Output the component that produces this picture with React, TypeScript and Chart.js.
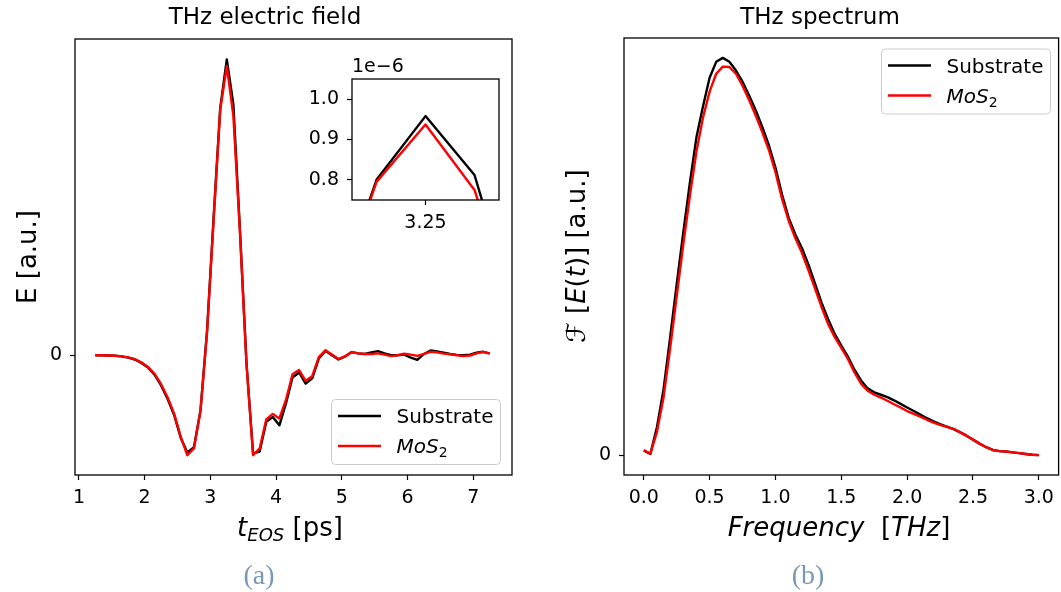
import React, { useEffect, useRef } from "react";
import Chart from "chart.js/auto";

// ---------- data ----------
const T_PS = [
  1.25, 1.35, 1.45, 1.55, 1.65, 1.75, 1.85, 1.95, 2.05, 2.15, 2.25, 2.35, 2.45, 2.55, 2.65, 2.75,
  2.85, 2.95, 3.05, 3.15, 3.25, 3.35, 3.45, 3.55, 3.65, 3.75, 3.85, 3.95, 4.05, 4.15, 4.25, 4.35,
  4.45, 4.55, 4.65, 4.75, 4.85, 4.95, 5.05, 5.15, 5.25, 5.35, 5.45, 5.55, 5.65, 5.75, 5.85, 5.95,
  6.05, 6.15, 6.25, 6.35, 6.45, 6.55, 6.65, 6.75, 6.85, 6.95, 7.05, 7.15, 7.25,
];
// E field in units of 1e-6
const E_SUBSTRATE = [
  0, 0, -0.001, -0.002, -0.004, -0.008, -0.014, -0.025, -0.04, -0.063, -0.098, -0.142, -0.195, -0.268, -0.315, -0.298,
  -0.178, 0.081, 0.448, 0.8, 0.958, 0.812, 0.405, -0.027, -0.318, -0.312, -0.216, -0.2, -0.227, -0.156, -0.072, -0.056,
  -0.092, -0.075, -0.011, 0.014, 0.0, -0.014, -0.004, 0.01, 0.006, 0.004, 0.009, 0.013, 0.006, 0.0, 0.0, 0.002,
  -0.008, -0.015, 0.004, 0.015, 0.012, 0.008, 0.004, 0.001, 0.0, 0.002, 0.008, 0.011, 0.006,
];
const E_MOS2 = [
  0, 0, -0.001, -0.002, -0.004, -0.007, -0.013, -0.023, -0.038, -0.06, -0.094, -0.137, -0.19, -0.265, -0.324, -0.302,
  -0.18, 0.075, 0.44, 0.795, 0.937, 0.775, 0.4, -0.03, -0.324, -0.302, -0.208, -0.19, -0.205, -0.145, -0.062, -0.048,
  -0.083, -0.068, -0.006, 0.016, 0.002, -0.012, -0.004, 0.01, 0.006, 0.004, 0.004, 0.006, 0.002, -0.003, 0.0, 0.005,
  0.002, -0.002, 0.004, 0.011, 0.009, 0.005, 0.003, 0.0, -0.003, -0.001, 0.006, 0.011, 0.005,
];
const FREQ_THZ = [
  0, 0.05, 0.1, 0.15, 0.2, 0.25, 0.3, 0.35, 0.4, 0.45, 0.5, 0.55, 0.6, 0.65, 0.7, 0.75, 0.8, 0.85, 0.9, 0.95,
  1.0, 1.05, 1.1, 1.15, 1.2, 1.25, 1.3, 1.35, 1.4, 1.45, 1.5, 1.55, 1.6, 1.65, 1.7, 1.75, 1.8, 1.85, 1.9, 1.95,
  2.0, 2.05, 2.1, 2.15, 2.2, 2.25, 2.3, 2.35, 2.4, 2.45, 2.5, 2.55, 2.6, 2.65, 2.7, 2.75, 2.8, 2.85, 2.9, 2.95, 3.0,
];
const SPEC_SUBSTRATE = [
  0.012, 0.003, 0.07, 0.165, 0.295, 0.43, 0.56, 0.685, 0.8, 0.878, 0.95, 0.99, 1.0, 0.99, 0.968, 0.94, 0.905, 0.868, 0.826, 0.78,
  0.724, 0.656, 0.598, 0.556, 0.522, 0.48, 0.432, 0.384, 0.342, 0.305, 0.276, 0.248, 0.215, 0.188, 0.168, 0.158, 0.152, 0.146, 0.138, 0.129,
  0.12, 0.111, 0.102, 0.093, 0.085, 0.078, 0.072, 0.066, 0.058, 0.049, 0.039, 0.029, 0.02, 0.013, 0.01, 0.009, 0.007, 0.005, 0.003, 0.001, 0.0,
];
const SPEC_MOS2 = [
  0.012, 0.004, 0.058, 0.145, 0.268, 0.4, 0.53, 0.652, 0.764, 0.85, 0.915, 0.96, 0.978, 0.977, 0.96, 0.93, 0.894, 0.855, 0.813, 0.768,
  0.712, 0.645, 0.59, 0.547, 0.51, 0.466, 0.42, 0.373, 0.33, 0.297, 0.27, 0.242, 0.208, 0.18, 0.162, 0.152, 0.145, 0.137, 0.128, 0.12,
  0.111, 0.104, 0.097, 0.089, 0.082, 0.076, 0.071, 0.066, 0.058, 0.049, 0.039, 0.029, 0.02, 0.013, 0.01, 0.009, 0.007, 0.005, 0.003, 0.001, 0.0,
];
const TIME_TICKS = [1, 2, 3, 4, 5, 6, 7];
const FREQ_TICKS = [0, 0.5, 1.0, 1.5, 2.0, 2.5, 3.0];
const ZERO_TICK = [0];
const INSET_X_TICKS = [3.25];
const INSET_Y_TICKS = [0.8, 0.9, 1.0];
const SERIES_NAMES = ["Substrate", "MoS"];

const FAM = '"DejaVu Sans"';
const BLACK = "#000000";
const RED = "#ff0000";
const LW = 2.4;

type Run = { t: string; font: string; dy?: number };
function drawRuns(ctx: CanvasRenderingContext2D, runs: Run[], x: number, y: number, align: "center" | "left") {
  let total = 0;
  for (const r of runs) {
    ctx.font = r.font;
    total += ctx.measureText(r.t).width;
  }
  let cx = align === "center" ? x - total / 2 : x;
  ctx.textAlign = "left";
  ctx.textBaseline = "alphabetic";
  for (const r of runs) {
    ctx.font = r.font;
    ctx.fillText(r.t, cx, y + (r.dy || 0));
    cx += ctx.measureText(r.t).width;
  }
}

function drawLegend(ctx: CanvasRenderingContext2D, x: number, y: number) {
  const w = 169, h = 65, r = 4;
  ctx.save();
  ctx.beginPath();
  ctx.moveTo(x + r, y);
  ctx.lineTo(x + w - r, y);
  ctx.quadraticCurveTo(x + w, y, x + w, y + r);
  ctx.lineTo(x + w, y + h - r);
  ctx.quadraticCurveTo(x + w, y + h, x + w - r, y + h);
  ctx.lineTo(x + r, y + h);
  ctx.quadraticCurveTo(x, y + h, x, y + h - r);
  ctx.lineTo(x, y + r);
  ctx.quadraticCurveTo(x, y, x + r, y);
  ctx.closePath();
  ctx.fillStyle = "rgba(255,255,255,0.8)";
  ctx.fill();
  ctx.strokeStyle = "#cccccc";
  ctx.lineWidth = 1;
  ctx.stroke();
  const rows = [
    { c: BLACK, yy: y + 16.5 },
    { c: RED, yy: y + 46.5 },
  ];
  rows.forEach((row) => {
    ctx.beginPath();
    ctx.moveTo(x + 6.5, row.yy);
    ctx.lineTo(x + 49.5, row.yy);
    ctx.strokeStyle = row.c;
    ctx.lineWidth = 2.6;
    ctx.stroke();
  });
  ctx.fillStyle = "#000";
  drawRuns(ctx, [{ t: SERIES_NAMES[0], font: `20px ${FAM}` }], x + 65, rows[0].yy + 7, "left");
  drawRuns(
    ctx,
    [
      { t: SERIES_NAMES[1], font: `italic 20px ${FAM}` },
      { t: "2", font: `14px ${FAM}`, dy: 4 },
    ],
    x + 65,
    rows[1].yy + 7,
    "left"
  );
  ctx.restore();
}

function frame(chart: any, lw = 1.3) {
  const { ctx, chartArea: a } = chart;
  ctx.save();
  ctx.strokeStyle = "#000";
  ctx.lineWidth = lw;
  ctx.strokeRect(a.left, a.top, a.right - a.left, a.bottom - a.top);
  ctx.restore();
}

function axisScale(ticks: number[], fmt: (v: number) => string, fitSize: number, horizontal: boolean, min: number, max: number, pad: number) {
  return {
    type: "linear" as const,
    min,
    max,
    afterBuildTicks: (axis: any) => {
      axis.ticks = ticks.map((v) => ({ value: v }));
    },
    afterFit: (axis: any) => {
      if (horizontal) axis.height = fitSize;
      else axis.width = fitSize;
    },
    grid: {
      display: true,
      drawOnChartArea: false,
      drawTicks: true,
      tickLength: 5,
      tickWidth: 1.2,
      tickColor: "#000",
    },
    border: { display: false },
    ticks: {
      autoSkip: false,
      maxRotation: 0,
      minRotation: 0,
      padding: pad,
      color: "#000",
      font: { family: "DejaVu Sans", size: 19 },
      callback: (v: any) => fmt(Number(v)),
    },
  };
}

function lineDataset(xs: number[], ys: number[], color: string, order: number) {
  return {
    data: xs.map((x, i) => ({ x, y: ys[i] })),
    borderColor: color,
    backgroundColor: color,
    borderWidth: LW,
    pointRadius: 0,
    tension: 0,
    fill: false,
    order,
    borderJoinStyle: "round" as const,
  };
}

export default function App() {
  const leftRef = useRef<HTMLCanvasElement>(null);
  const rightRef = useRef<HTMLCanvasElement>(null);
  const insetRef = useRef<HTMLCanvasElement>(null);

  useEffect(() => {
    const charts: Chart[] = [];
    const common = {
      responsive: false,
      animation: false as const,
      events: [] as any[],
      plugins: { legend: { display: false }, tooltip: { enabled: false }, title: { display: false } },
    };

    // ---- left: time domain ----
    charts.push(
      new Chart(leftRef.current!, {
        type: "line",
        data: {
          datasets: [lineDataset(T_PS, E_SUBSTRATE, BLACK, 1), lineDataset(T_PS, E_MOS2, RED, 0)] as any,
        },
        options: {
          ...common,
          layout: { padding: { left: 0, right: 18, top: 39, bottom: 77 } },
          scales: {
            x: axisScale(TIME_TICKS, (v) => String(v), 40, true, 0.94, 7.59, 7),
            y: axisScale(ZERO_TICK, () => "0", 75, false, -0.388, 1.024, 8),
          },
        } as any,
        plugins: [
          {
            id: "leftDeco",
            afterDraw(chart: any) {
              const ctx = chart.ctx as CanvasRenderingContext2D;
              frame(chart);
              ctx.save();
              ctx.fillStyle = "#000";
              ctx.font = `23px ${FAM}`;
              ctx.textAlign = "center";
              ctx.textBaseline = "middle";
              ctx.fillText("THz electric field", 265, 18);
              drawRuns(
                ctx,
                [
                  { t: "t", font: `italic 26px ${FAM}` },
                  { t: "EOS", font: `italic 18px ${FAM}`, dy: 5 },
                  { t: " [ps]", font: `26px ${FAM}` },
                ],
                290,
                536,
                "center"
              );
              ctx.save();
              ctx.translate(36, 257);
              ctx.rotate(-Math.PI / 2);
              drawRuns(ctx, [{ t: "E [a.u.]", font: `26px ${FAM}` }], 0, 0, "center");
              ctx.restore();
              drawLegend(ctx, 331.5, 399.5);
              ctx.restore();
            },
          },
        ],
      })
    );

    // ---- inset ----
    charts.push(
      new Chart(insetRef.current!, {
        type: "line",
        data: {
          datasets: [lineDataset(T_PS, E_SUBSTRATE, BLACK, 1), lineDataset(T_PS, E_MOS2, RED, 0)] as any,
        },
        options: {
          ...common,
          layout: { padding: { left: 0, right: 11, top: 24, bottom: 15 } },
          scales: {
            x: axisScale(INSET_X_TICKS, (v) => v.toFixed(2), 30, true, 3.1, 3.4, 7),
            y: axisScale(INSET_Y_TICKS, (v) => v.toFixed(1), 52, false, 0.75, 1.05, 8),
          },
        } as any,
        plugins: [
          {
            id: "insetDeco",
            beforeDatasetsDraw(chart: any) {
              const { ctx, chartArea: a } = chart;
              ctx.save();
              ctx.fillStyle = "#fff";
              ctx.fillRect(a.left, a.top, a.right - a.left, a.bottom - a.top);
              ctx.restore();
            },
            afterDraw(chart: any) {
              const ctx = chart.ctx as CanvasRenderingContext2D;
              frame(chart);
              ctx.save();
              ctx.fillStyle = "#000";
              ctx.font = `19px ${FAM}`;
              ctx.textAlign = "left";
              ctx.textBaseline = "middle";
              ctx.fillText("1e\u22126", chart.chartArea.left, 12);
              ctx.restore();
            },
          },
        ],
      })
    );

    // ---- right: spectrum ----
    charts.push(
      new Chart(rightRef.current!, {
        type: "line",
        data: {
          datasets: [lineDataset(FREQ_THZ, SPEC_SUBSTRATE, BLACK, 1), lineDataset(FREQ_THZ, SPEC_MOS2, RED, 0)] as any,
        },
        options: {
          ...common,
          layout: { padding: { left: 0, right: 1, top: 38, bottom: 77 } },
          scales: {
            x: axisScale(FREQ_TICKS, (v) => v.toFixed(1), 40, true, -0.15, 3.15, 7),
            y: axisScale(ZERO_TICK, () => "0", 94, false, -0.05, 1.05, 8),
          },
        } as any,
        plugins: [
          {
            id: "rightDeco",
            afterDraw(chart: any) {
              const ctx = chart.ctx as CanvasRenderingContext2D;
              frame(chart);
              ctx.save();
              ctx.fillStyle = "#000";
              ctx.font = `23px ${FAM}`;
              ctx.textAlign = "center";
              ctx.textBaseline = "middle";
              ctx.fillText("THz spectrum", 290, 18);
              drawRuns(
                ctx,
                [
                  { t: "Frequency", font: `italic 26px ${FAM}` },
                  { t: "  [", font: `26px ${FAM}` },
                  { t: "THz", font: `italic 26px ${FAM}` },
                  { t: "]", font: `26px ${FAM}` },
                ],
                309,
                536,
                "center"
              );
              ctx.save();
              ctx.translate(55, 256);
              ctx.rotate(-Math.PI / 2);
              drawRuns(
                ctx,
                [
                  { t: "\u2131", font: `26px ${FAM}` },
                  { t: " [", font: `26px ${FAM}` },
                  { t: "E", font: `italic 26px ${FAM}` },
                  { t: "(", font: `26px ${FAM}` },
                  { t: "t", font: `italic 26px ${FAM}` },
                  { t: ")] [a.u.]", font: `26px ${FAM}` },
                ],
                0,
                0,
                "center"
              );
              ctx.restore();
              drawLegend(ctx, 351.5, 49);
              ctx.restore();
            },
          },
        ],
      })
    );

    return () => charts.forEach((c) => c.destroy());
  }, []);

  const captionStyle: React.CSSProperties = {
    position: "absolute",
    top: 560,
    width: 100,
    textAlign: "center",
    fontFamily: '"Liberation Serif", serif',
    fontSize: 28,
    lineHeight: "30px",
    color: "#7a97b4",
  };

  return (
    <div style={{ position: "absolute", left: 0, top: 0, width: 1061, height: 592, background: "#fff", overflow: "hidden" }}>
      <canvas ref={leftRef} width={530} height={592} style={{ position: "absolute", left: 0, top: 0, width: 530, height: 592 }} />
      <canvas ref={rightRef} width={531} height={592} style={{ position: "absolute", left: 530, top: 0, width: 531, height: 592 }} />
      <canvas ref={insetRef} width={210} height={190} style={{ position: "absolute", left: 300, top: 55, width: 210, height: 190 }} />
      <div style={{ ...captionStyle, left: 209 }}>(a)</div>
      <div style={{ ...captionStyle, left: 758 }}>(b)</div>
    </div>
  );
}
